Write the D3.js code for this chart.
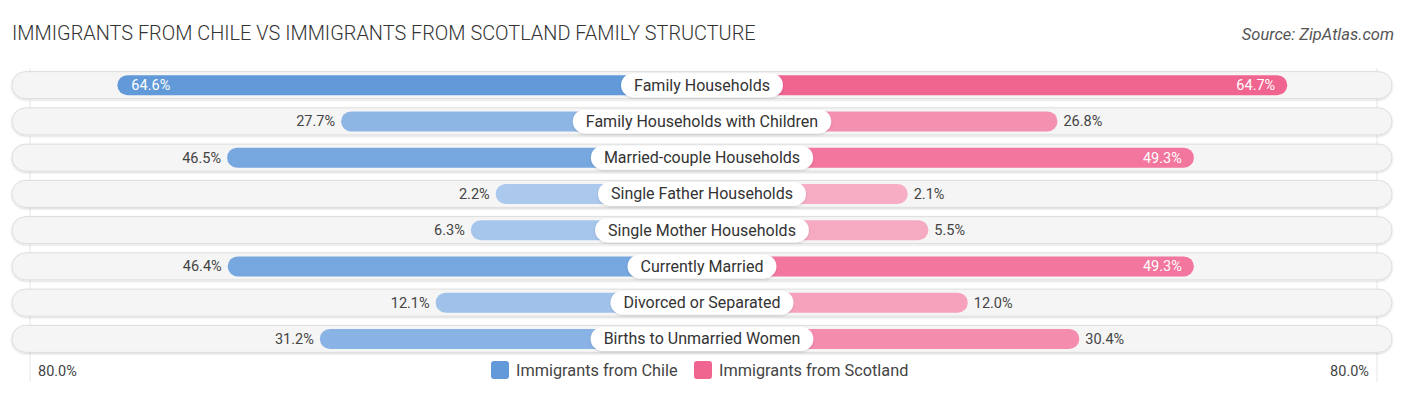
<!DOCTYPE html>
<html>
<head>
<meta charset="utf-8">
<script src="https://cdn.jsdelivr.net/npm/d3@7"></script>
<style>
  body { margin: 0; background: #fff; }
  text { font-family: Roboto, "Noto Sans", sans-serif; }
</style>
</head>
<body>
<div id="chart"></div>
<script>
const categories = [
  "Family Households",
  "Family Households with Children",
  "Married-couple Households",
  "Single Father Households",
  "Single Mother Households",
  "Currently Married",
  "Divorced or Separated",
  "Births to Unmarried Women"
];
const chileValues = [64.6, 27.7, 46.5, 2.2, 6.3, 46.4, 12.1, 31.2];
const scotlandValues = [64.7, 26.8, 49.3, 2.1, 5.5, 49.3, 12.0, 30.4];
const seriesNames = ["Immigrants from Chile", "Immigrants from Scotland"];
const axisLabel = "80.0%";

const width = 1406, height = 395;
const cx = 702;

const svg = d3.select("#chart").append("svg")
  .attr("width", width)
  .attr("height", height);

// title and source
svg.append("text")
  .attr("x", 12).attr("y", 40)
  .attr("font-size", 19.9)
  .attr("font-weight", 300)
  .attr("fill", "#333")
  .text("IMMIGRANTS FROM CHILE VS IMMIGRANTS FROM SCOTLAND FAMILY STRUCTURE");

svg.append("text")
  .attr("x", 1394).attr("y", 40)
  .attr("text-anchor", "end")
  .attr("font-size", 16.5)
  .attr("font-style", "italic")
  .attr("fill", "#555")
  .text("Source: ZipAtlas.com");

// scales
const y = d3.scaleBand()
  .domain(categories)
  .range([67, 357])
  .paddingInner(0);

const half = d3.scaleLinear().domain([0, 80]).range([193, 678]);

const blueCol = d3.scaleLinear().domain([0, 65]).range(["#aecbee", "#6199d9"]);
const pinkCol = d3.scaleLinear().domain([0, 65]).range(["#f7b0c6", "#f06490"]);

// faint gridlines at the ends
[30, 1377].forEach(x => {
  svg.append("line")
    .attr("x1", x).attr("x2", x)
    .attr("y1", 68).attr("y2", 382)
    .attr("stroke", "#e6e6e6")
    .attr("stroke-width", 1);
});

const defs = svg.append("defs");
const f = defs.append("filter").attr("id", "sh").attr("x", "-5%").attr("y", "-30%").attr("width", "110%").attr("height", "160%");
f.append("feDropShadow").attr("dx", 0).attr("dy", 1).attr("stdDeviation", 1).attr("flood-color", "#000").attr("flood-opacity", 0.16);

const rows = svg.selectAll(".row")
  .data(categories)
  .enter().append("g")
  .attr("class", "row")
  .attr("transform", d => `translate(0,${y(d) + y.bandwidth() / 2})`);

// row backgrounds
rows.append("rect")
  .attr("x", 12).attr("y", -13.5)
  .attr("width", 1380).attr("height", 27)
  .attr("rx", 13.5)
  .attr("fill", "#f5f5f5")
  .attr("stroke", "#dedede")
  .attr("stroke-width", 1)
  .attr("filter", "url(#sh)");

// left bars
rows.append("rect")
  .attr("x", (d, i) => cx - half(chileValues[i]))
  .attr("y", -10)
  .attr("width", (d, i) => half(chileValues[i]))
  .attr("height", 20)
  .attr("rx", 10)
  .attr("fill", (d, i) => blueCol(chileValues[i]));

// right bars
rows.append("rect")
  .attr("x", cx)
  .attr("y", -10)
  .attr("width", (d, i) => half(scotlandValues[i]))
  .attr("height", 20)
  .attr("rx", 10)
  .attr("fill", (d, i) => pinkCol(scotlandValues[i]));

const inside = v => v >= 49;

// left values
rows.append("text")
  .attr("x", (d, i) => inside(chileValues[i]) ? cx - half(chileValues[i]) + 14 : cx - half(chileValues[i]) - 6)
  .attr("y", 5)
  .attr("text-anchor", (d, i) => inside(chileValues[i]) ? "start" : "end")
  .attr("font-size", 14.5)
  .attr("fill", (d, i) => inside(chileValues[i]) ? "#fff" : "#444")
  .text((d, i) => chileValues[i].toFixed(1) + "%");

// right values
rows.append("text")
  .attr("x", (d, i) => inside(scotlandValues[i]) ? cx + half(scotlandValues[i]) - 12 : cx + half(scotlandValues[i]) + 6)
  .attr("y", 5)
  .attr("text-anchor", (d, i) => inside(scotlandValues[i]) ? "end" : "start")
  .attr("font-size", 14.5)
  .attr("fill", (d, i) => inside(scotlandValues[i]) ? "#fff" : "#444")
  .text((d, i) => scotlandValues[i].toFixed(1) + "%");

// category labels in pills
rows.each(function(d) {
  const g = d3.select(this);
  const t = g.append("text")
    .attr("x", cx).attr("y", 5.5)
    .attr("text-anchor", "middle")
    .attr("font-size", 16)
    .attr("fill", "#333")
    .text(d);
  const w = t.node().getComputedTextLength() + 26;
  g.insert("rect", "text:last-of-type")
    .attr("x", cx - w / 2).attr("y", -12)
    .attr("width", w).attr("height", 24)
    .attr("rx", 12)
    .attr("fill", "#fff")
    .attr("filter", "url(#sh)");
});

// axis labels
svg.append("text")
  .attr("x", 38).attr("y", 376)
  .attr("font-size", 14.5).attr("fill", "#444")
  .text(axisLabel);
svg.append("text")
  .attr("x", 1369).attr("y", 376)
  .attr("text-anchor", "end")
  .attr("font-size", 14.5).attr("fill", "#444")
  .text(axisLabel);

// legend
const legend = svg.append("g");
const legendX = [491, 694];
const legendCols = [blueCol(65), pinkCol(65)];
seriesNames.forEach((name, i) => {
  legend.append("rect")
    .attr("x", legendX[i]).attr("y", 361)
    .attr("width", 18).attr("height", 18)
    .attr("rx", 3)
    .attr("fill", legendCols[i]);
  legend.append("text")
    .attr("x", legendX[i] + 25).attr("y", 376)
    .attr("font-size", 16.3).attr("fill", "#444")
    .text(name);
});
</script>
</body>
</html>
